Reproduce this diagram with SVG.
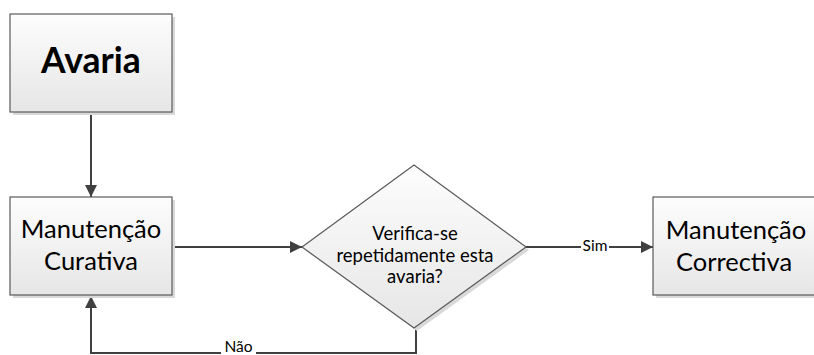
<svg xmlns="http://www.w3.org/2000/svg" width="814" height="355" viewBox="0 0 814 355">
<defs>
<linearGradient id="g" x1="0" y1="0" x2="0" y2="1">
<stop offset="0" stop-color="#fdfdfd"/>
<stop offset="1" stop-color="#e6e6e6"/>
</linearGradient>
<marker id="arr" markerWidth="12" markerHeight="12" viewBox="0 0 12 12" refX="12" refY="6" orient="auto" markerUnits="userSpaceOnUse">
<path d="M0,0 L12,6 L0,12 Z" fill="#404040"/>
</marker>
</defs>
<style>
.box{fill:url(#g);stroke:#5a5a5a;stroke-width:1.2}
.sh{fill:#d9d9d9}
.t{font-family:Lato,"Liberation Sans",sans-serif;fill:#000;text-anchor:middle}
.bt{font-size:25.5px}
.dt{font-size:18.5px}
.lt{font-size:15.5px}
.c{fill:none;stroke:#404040;stroke-width:2}
.lbg{fill:#fff}
</style>
<rect width="814" height="355" fill="#fff"/>
<g id="connectors">
<path class="c" d="M91,112 L91,197" marker-end="url(#arr)"/>
<path class="c" d="M172,247 L302,247" marker-end="url(#arr)"/>
<path class="c" d="M526,247 L653,247" marker-end="url(#arr)"/>
<path class="c" d="M416,328 L416,353 L91,353 L91,296" marker-end="url(#arr)"/>
<rect class="lbg" x="581" y="240" width="28" height="14"/>
<text class="t lt" x="595" y="251">Sim</text>
<rect class="lbg" x="221" y="341" width="35" height="14"/>
<text class="t lt" x="238.5" y="351.5">Não</text>
</g>
<g id="avaria">
<rect class="sh" x="13" y="17" width="162" height="98"/>
<rect class="box" x="10" y="14" width="162" height="98"/>
<text class="t" x="91" y="73" style="font-size:35.5px;font-weight:bold">Avaria</text>
</g>
<g id="curativa">
<rect class="sh" x="13" y="200" width="162" height="98"/>
<rect class="box" x="10" y="197" width="162" height="98"/>
<text class="t bt" x="91" y="238">Manutenção</text>
<text class="t bt" x="91" y="270">Curativa</text>
</g>
<g id="decisao">
<polygon class="sh" points="417,168 529,250 417,331 305,250"/>
<polygon class="box" points="414,165 526,247 414,328 302,247"/>
<text class="t dt" x="415" y="240">Verifica-se</text>
<text class="t dt" x="415" y="262">repetidamente esta</text>
<text class="t dt" x="415" y="283">avaria?</text>
</g>
<g id="correctiva">
<rect class="sh" x="656" y="200" width="162" height="98"/>
<rect class="box" x="653" y="197" width="162" height="98"/>
<text class="t bt" x="736" y="239">Manutenção</text>
<text class="t bt" x="734" y="271">Correctiva</text>
</g>
</svg>
